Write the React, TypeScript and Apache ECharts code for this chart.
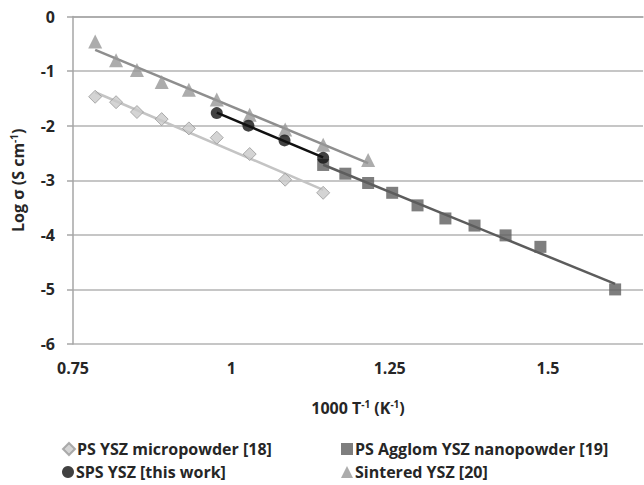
import React, { useEffect, useRef } from "react";
import * as echarts from "echarts";

const microX = [0.785, 0.818, 0.851, 0.89, 0.933, 0.977, 1.029, 1.085, 1.145];
const microY = [-1.47, -1.57, -1.75, -1.88, -2.05, -2.22, -2.52, -2.99, -3.23];

const agglomX = [1.145, 1.18, 1.216, 1.254, 1.294, 1.338, 1.384, 1.433, 1.488, 1.606];
const agglomY = [-2.72, -2.88, -3.05, -3.23, -3.46, -3.7, -3.83, -4.01, -4.22, -5.0];

const spsX = [0.977, 1.027, 1.084, 1.145];
const spsY = [-1.77, -2.0, -2.27, -2.59];

const sinterX = [0.785, 0.818, 0.851, 0.89, 0.933, 0.977, 1.029, 1.085, 1.145, 1.216];
const sinterY = [-0.46, -0.8, -0.98, -1.2, -1.34, -1.52, -1.8, -2.07, -2.35, -2.63];

const names = [
  "PS YSZ micropowder [18]",
  "PS Agglom YSZ nanopowder [19]",
  "SPS YSZ [this work]",
  "Sintered YSZ [20]",
];

const FONT = "'Open Sans', sans-serif";
const TXT = "#262626";
const FS = 16;

function zip(xs: number[], ys: number[]) {
  return xs.map((x, i) => [x, ys[i]]);
}

function trend(xs: number[], ys: number[]) {
  const n = xs.length;
  const mx = xs.reduce((a, b) => a + b, 0) / n;
  const my = ys.reduce((a, b) => a + b, 0) / n;
  let sxy = 0;
  let sxx = 0;
  for (let i = 0; i < n; i++) {
    sxy += (xs[i] - mx) * (ys[i] - my);
    sxx += (xs[i] - mx) * (xs[i] - mx);
  }
  const b = sxy / sxx;
  const a = my - b * mx;
  const x0 = Math.min(...xs);
  const x1 = Math.max(...xs);
  return [
    [x0, a + b * x0],
    [x1, a + b * x1],
  ];
}

const supStyle = { fontFamily: FONT, fontWeight: "bold", fontSize: 10, color: TXT, verticalAlign: "top", padding: [0, 0, 7, 0] };

function legendAt(name: string, left: number, top: number) {
  return {
    orient: "horizontal",
    left,
    top,
    itemWidth: 12,
    itemHeight: 12,
    itemGap: 0,
    textStyle: { fontFamily: FONT, fontWeight: "bold", fontSize: FS, color: TXT, padding: [0, 0, 0, -3] },
    data: [name],
  };
}

export default function App() {
  const ref = useRef<HTMLDivElement>(null);
  useEffect(() => {
    if (!ref.current) return;
    const chart = echarts.init(ref.current, undefined, { renderer: "svg" });
    const lineSeries = (xs: number[], ys: number[], color: string) => ({
      type: "line",
      data: trend(xs, ys),
      symbol: "none",
      lineStyle: { color, width: 2.5 },
      z: 1,
      silent: true,
    });
    chart.setOption({
      animation: false,
      grid: { left: 73, right: 1, top: 16.5, bottom: 141, containLabel: false },
      xAxis: {
        type: "value",
        min: 0.75,
        max: 1.65,
        interval: 0.25,
        name: "1000 T{sup|-1} (K{sup|-1})",
        nameLocation: "middle",
        nameGap: 55,
        nameTextStyle: {
          fontFamily: FONT,
          fontWeight: "bold",
          fontSize: FS,
          color: TXT,
          rich: { sup: supStyle },
        },
        axisLine: { show: true, lineStyle: { color: "#a6a6a6", width: 1.5 } },
        axisTick: { show: false },
        splitLine: { show: false },
        axisLabel: {
          showMaxLabel: false,
          margin: 16,
          fontFamily: FONT,
          fontWeight: "bold",
          fontSize: FS,
          color: TXT,
        },
      },
      yAxis: {
        type: "value",
        min: -6,
        max: 0,
        interval: 1,
        name: "Log σ (S cm{sup|-1})",
        nameLocation: "middle",
        nameRotate: 90,
        nameGap: 47,
        nameTextStyle: {
          fontFamily: FONT,
          fontWeight: "bold",
          fontSize: FS,
          color: TXT,
          rich: { sup: supStyle },
        },
        axisLine: { show: true, lineStyle: { color: "#a6a6a6", width: 1.5 } },
        axisTick: { show: true, length: 6, lineStyle: { color: "#a6a6a6", width: 1.5 } },
        splitLine: { show: true, lineStyle: { color: "#b3b3b3", width: 1.5 } },
        axisLabel: {
          margin: 18,
          fontFamily: FONT,
          fontWeight: "bold",
          fontSize: FS,
          color: TXT,
        },
      },
      legend: [
        legendAt(names[0], 57, 436),
        legendAt(names[2], 57, 459),
        legendAt(names[1], 336, 436),
        legendAt(names[3], 336, 459),
      ],
      series: [
        lineSeries(microX, microY, "#c4c4c4"),
        lineSeries(agglomX, agglomY, "#5c5c5c"),
        lineSeries(sinterX, sinterY, "#8e8e8e"),
        lineSeries(spsX, spsY, "#111111"),
        {
          name: names[1],
          type: "scatter",
          data: zip(agglomX, agglomY),
          symbol: "rect",
          symbolSize: 12,
          itemStyle: { color: "#5e5e5e" },
          z: 2,
        },
        {
          name: names[0],
          type: "scatter",
          data: zip(microX, microY),
          symbol: "diamond",
          symbolSize: 13,
          itemStyle: { color: "#c9c9c9", borderColor: "#9a9a9a", borderWidth: 1 },
          z: 3,
        },
        {
          name: names[3],
          type: "scatter",
          data: zip(sinterX, sinterY),
          symbol: "triangle",
          symbolSize: 14,
          itemStyle: { color: "#979797" },
          z: 4,
        },
        {
          name: names[2],
          type: "scatter",
          data: zip(spsX, spsY),
          symbol: "circle",
          symbolSize: 12,
          itemStyle: { color: "#111111" },
          z: 5,
        },
      ],
    });
    return () => chart.dispose();
  }, []);
  return <div ref={ref} style={{ width: 644, height: 485, position: "absolute", left: 0, top: 0 }} />;
}
